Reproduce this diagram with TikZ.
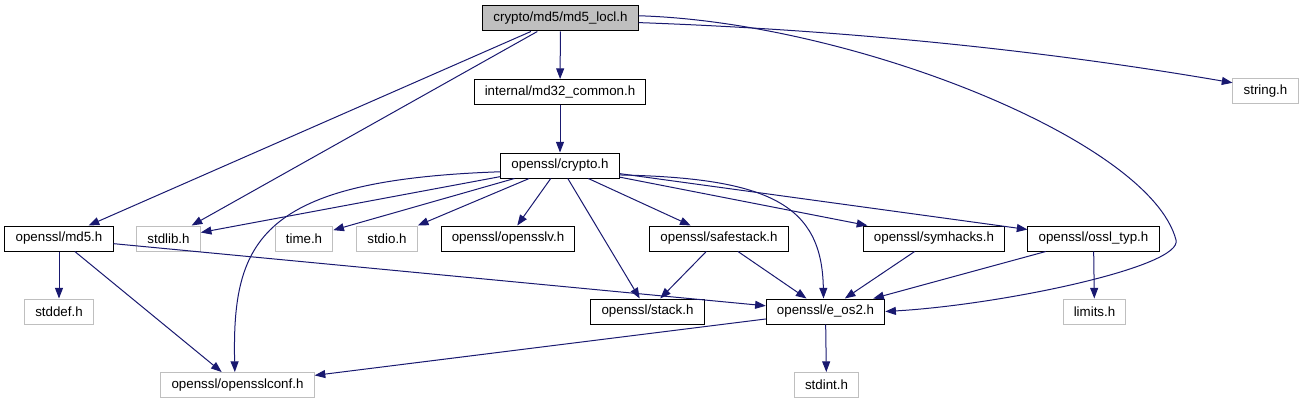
\documentclass[tikz,border=0pt]{standalone}
\usepackage{fontspec}
\setmainfont{Liberation Sans}
\usetikzlibrary{arrows.meta}
\definecolor{edgeblue}{HTML}{191970}
\definecolor{boxgray}{HTML}{BFBFBF}
\begin{document}
\begin{tikzpicture}[x=0.75pt, y=-0.75pt, font=\fontsize{10}{12}\selectfont,
        hfile/.style={draw, line width=0.75pt, inner xsep=8pt, inner ysep=0pt, minimum height=18.75pt},
        sysfile/.style={hfile, draw=boxgray},
        inc/.style={draw=edgeblue, line width=0.75pt, -{Triangle[length=8pt, width=6pt]}}]
        \useasboundingbox (0,0) rectangle (1304,403);
        % files
        \node [hfile, fill=boxgray] (locl) at (560.5,18.5) {crypto/md5/md5\_locl.h};
        \node [hfile] (md32) at (560,92) {internal/md32\_common.h};
        \node [sysfile] (stringh) at (1265.5,91) {string.h};
        \node [hfile] (crypto) at (560,165.5) {openssl/crypto.h};
        \node [hfile] (md5) at (59,238.5) {openssl/md5.h};
        \node [sysfile] (stdlib) at (168.5,238.5) {stdlib.h};
        \node [sysfile] (timeh) at (304,238.5) {time.h};
        \node [sysfile] (stdio) at (387,238.5) {stdio.h};
        \node [hfile] (opensslv) at (508,238.5) {openssl/opensslv.h};
        \node [hfile] (safestack) at (719,238.5) {openssl/safestack.h};
        \node [hfile] (symhacks) at (934,238.5) {openssl/symhacks.h};
        \node [hfile] (ossltyp) at (1093.5,238.5) {openssl/ossl\_typ.h};
        \node [sysfile] (stddef) at (59,311.5) {stddef.h};
        \node [hfile] (stack) at (647.5,311.5) {openssl/stack.h};
        \node [hfile] (eos2) at (825.5,311.5) {openssl/e\_os2.h};
        \node [sysfile] (limits) at (1094.5,311.5) {limits.h};
        \node [sysfile] (conf) at (237.5,385) {openssl/opensslconf.h};
        \node [sysfile] (stdint) at (826.5,385) {stdint.h};
        \coordinate (bendr) at (1176,240);
        % includes
        \draw [inc] (locl) -- (md32);
        \draw [inc] (locl.-3) .. controls (900,32) and (1100,60) .. (stringh.166);
        \draw [inc] (locl.2) .. controls (850,22) and (1150,140) .. (bendr) .. controls (1183,267) and (1000,305) .. (eos2.east);
        \draw [inc] (locl) -- (md5);
        \draw [inc] (locl) -- (stdlib);
        \draw [inc] (md32) -- (crypto);
        \draw [inc] (crypto) -- (stdlib);
        \draw [inc] (crypto) -- (timeh);
        \draw [inc] (crypto) -- (stdio);
        \draw [inc] (crypto) -- (opensslv);
        \draw [inc] (crypto) -- (stack);
        \draw [inc] (crypto) -- (safestack);
        \draw [inc] (crypto) -- (symhacks);
        \draw [inc] (crypto) -- (ossltyp);
        \draw [inc] (crypto.-9) .. controls (770,178) and (822,205) .. ([xshift=-1.5pt]eos2.north);
        \draw [inc] (crypto.186) .. controls (260,180) and (232,240) .. ([xshift=-2pt]conf.north);
        \draw [inc] (md5) -- (stddef);
        \draw [inc] (md5) -- (conf);
        \draw [inc] (md5) -- (eos2);
        \draw [inc] (safestack) -- (stack);
        \draw [inc] (safestack) -- (eos2);
        \draw [inc] (symhacks) -- (eos2);
        \draw [inc] (ossltyp) -- (eos2);
        \draw [inc] (ossltyp) -- (limits);
        \draw [inc] (eos2) -- (conf);
        \draw [inc] (eos2) -- (stdint);
\end{tikzpicture}
\end{document}
